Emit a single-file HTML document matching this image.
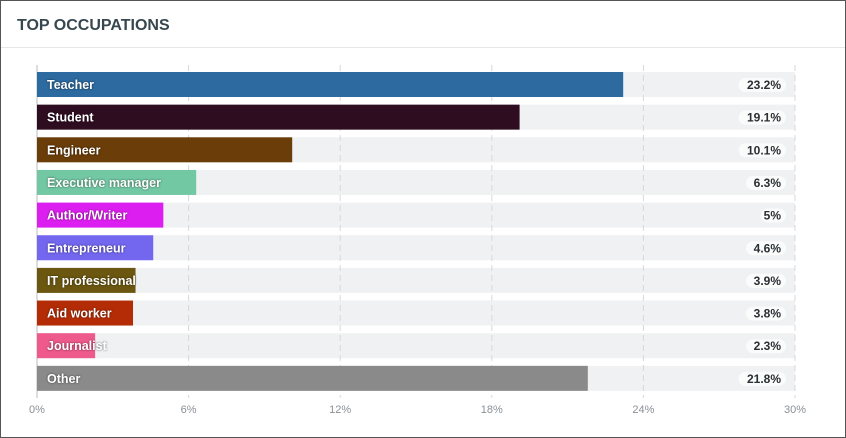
<!DOCTYPE html>
<html><head><meta charset="utf-8"><style>
body{margin:0;background:#fff;font-family:"Liberation Sans",sans-serif}
#card{position:absolute;left:0;top:0;width:844px;height:436px;border:1px solid #555;background:#fff}
#title{position:absolute;left:16px;top:16px;font-size:16px;font-weight:bold;color:#37474f}
#hdr{position:absolute;left:0;top:46px;width:844px;height:1px;background:#e6e6e6}
</style></head><body>
<div id="card">
<div id="title">TOP OCCUPATIONS</div>
<div id="hdr"></div>
</div>
<svg id="chart" width="846" height="438" style="position:absolute;left:0;top:0"></svg>
<script>
const categories=["Teacher","Student","Engineer","Executive manager","Author/Writer","Entrepreneur","IT professional","Aid worker","Journalist","Other"];
const values=[23.2,19.1,10.1,6.3,5,4.6,3.9,3.8,2.3,21.8];
const valueLabels=["23.2%","19.1%","10.1%","6.3%","5%","4.6%","3.9%","3.8%","2.3%","21.8%"];
const colors=["#2c6aa0","#2f0d20","#6a3d09","#73c8a4","#dd1ef0","#7367ef","#6b5710","#b42c06","#ee5a8c","#8a8a8a"];
const ticks=[0,6,12,18,24,30];
const tickLabels=["0%","6%","12%","18%","24%","30%"];
const NS="http://www.w3.org/2000/svg";
const svg=document.getElementById('chart');
const x0=37,x1=795,xMax=30;
const x=v=>x0+v/xMax*(x1-x0);
const rowTop=72,rowStep=32.65,barH=25;
const y=i=>rowTop+i*rowStep;
function mk(t,a){const e=document.createElementNS(NS,t);for(const k in a)e.setAttribute(k,a[k]);svg.appendChild(e);return e;}
categories.forEach((c,i)=>{
  const bg=mk('rect',{x:x0,y:y(i),width:x1-x0,height:barH,fill:'#f0f1f2'});
  
  
});
ticks.forEach((t,j)=>{
  const l=mk('line',{x1:x(t),x2:x(t),y1:65,y2:398,stroke:j==0?'#bbb':'#d8d8d8','stroke-width':1,'stroke-dasharray':j==0?'':'6,4'});
  
  
  const tx=mk('text',{x:x(t),y:413,'text-anchor':'middle','font-size':11,fill:'#8a9096'});
  tx.textContent=tickLabels[j];
  
  
});
categories.forEach((c,i)=>{
  const r=mk('rect',{x:x0,y:y(i),width:x(values[i])-x0,height:barH,fill:colors[i]});
  
  
  const t=mk('text',{x:x0+10,y:y(i)+17,'font-size':12.5,'font-weight':'bold',fill:'#fff',style:'text-shadow:0 0 2px rgba(0,0,0,.6)'});
  t.textContent=c;
  
  
  const w=valueLabels[i].length*7.5+10;
  const p=mk('rect',{x:786-w,y:y(i)+6,width:w,height:14,rx:7,fill:'#fafbfb'});
  
  
  const v=mk('text',{x:781,y:y(i)+17,'text-anchor':'end','font-size':12,'font-weight':'bold',fill:'#2a2f33'});
  v.textContent=valueLabels[i];
  
  
});
</script>
</body></html>
